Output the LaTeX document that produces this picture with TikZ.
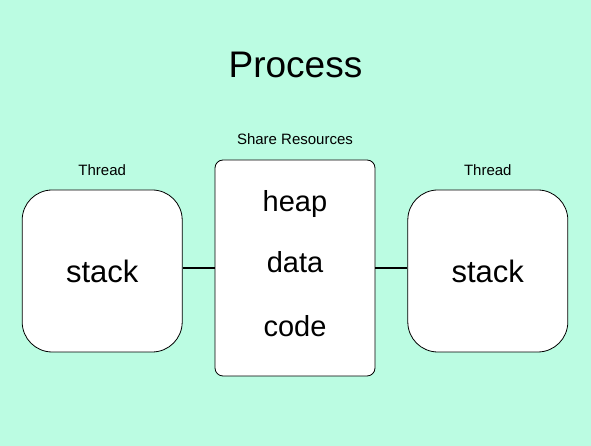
\documentclass[tikz,border=0pt]{standalone}
\usepackage{fontspec}
\setmainfont{Liberation Sans}
\usetikzlibrary{positioning}
\definecolor{mint}{RGB}{187,252,226}

\begin{document}
\begin{tikzpicture}[node distance = 32pt]
\tikzstyle{thread} = [draw = black, fill = white, line width = 0.8pt, rounded corners = 30pt, minimum width = 160pt, minimum height = 162pt, font = \fontsize{31}{37}\selectfont]
\tikzstyle{shared} = [draw = black, fill = white, line width = 0.8pt, rounded corners = 8pt, minimum width = 160pt, minimum height = 216pt]
\tikzstyle{item} = [anchor = base, font = \fontsize{29}{35}\selectfont]
\tikzstyle{caption} = [font = \fontsize{15}{18}\selectfont]
\tikzstyle{connect} = [line width = 2pt]
  \fill[mint] (0,0) rectangle (591pt,446pt);
  \useasboundingbox (0,0) rectangle (591pt,446pt);
  \node[shared] (res) at (295pt,178pt) {};
  \node[thread, left=of res, yshift=-3pt] (threadL) {stack};
  \node[thread, right=of res, yshift=-3pt] (threadR) {stack};
  \node[item] (heap) at (295pt,234pt) {heap};
  \node[item] (data) at (295pt,173pt) {data};
  \node[item] (code) at (295pt,109pt) {code};
  \node[caption, above=11pt of res] (share) {Share Resources};
  \node[caption, above=10pt of threadL] (tL) {Thread};
  \node[caption, above=10pt of threadR] (tR) {Thread};
  \node[anchor = base, font = \fontsize{37}{44}\selectfont] (title) at (295.5pt,368pt) {Process};
\draw[connect] (threadL.east |- res.west) -- (res.west);
\draw[connect] (res.east) -- (threadR.west |- res.east);
\end{tikzpicture}
\end{document}
